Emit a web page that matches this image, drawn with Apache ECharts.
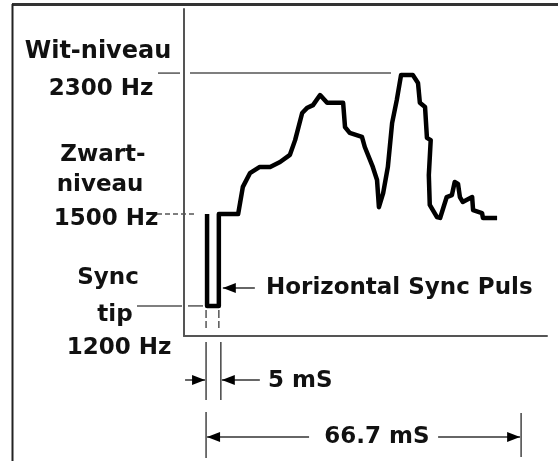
<!DOCTYPE html>
<html>
<head>
<meta charset="utf-8">
<script src="https://cdn.jsdelivr.net/npm/echarts@6/dist/echarts.min.js"></script>
<style>
  html, body { margin: 0; padding: 0; background: #fff; }
  #chart { width: 558px; height: 461px; }
</style>
</head>
<body>
<div id="chart"></div>
<script>
// tijd in ms, niveau relatief (0 = as, 100 = bovenkant)
const tijd = [4.9, 4.9, 7.4, 7.4, 11.5, 12.5, 14.0, 16.1, 18.3, 20.4, 22.5, 23.6, 25.1, 26.1,
  27.4, 28.9, 30.4, 33.8, 34.2, 35.2, 37.8, 38.4, 40.1, 41.0, 41.4, 42.3, 43.3, 44.2, 45.2,
  46.1, 48.6, 49.7, 50.1, 51.2, 51.6, 52.4, 52.0, 52.2, 53.7, 54.4, 55.8, 56.9, 57.5, 58.2,
  58.6, 59.2, 61.2, 61.4, 63.3, 63.5, 66.5]
const niveau = [37.3, 9.2, 9.2, 37.3, 37.3, 45.6, 49.8, 51.7, 51.7, 53.2, 55.4, 59.9, 68.2, 69.7,
  70.6, 73.7, 71.3, 71.3, 63.9, 62.1, 60.9, 57.8, 51.7, 47.7, 39.4, 43.7, 51.7, 65.1, 72.2,
  79.8, 79.8, 77.4, 71.3, 70.0, 60.6, 59.9, 49.2, 40.1, 36.4, 36.1, 42.5, 43.1, 47.1, 46.5,
  42.5, 41.0, 42.5, 38.5, 37.6, 36.1, 36.1]

const syncStart = 4.9
const syncEind = 7.4
const lijnDuur = 66.7
const nivSync = 9.2
const nivZwart = 37.3
const nivWit = 80.4

const chart = echarts.init(document.getElementById('chart'))

const as = {
  type: 'value',
  axisLine: { show: true, onZero: false, lineStyle: { color: '#555', width: 2 } },
  axisTick: { show: false },
  axisLabel: { show: false },
  splitLine: { show: false }
}

chart.setOption({
  animation: false,
  grid: { left: 184, right: 11, top: 9, bottom: 125 },
  xAxis: Object.assign({}, as, { min: 0, max: 77.1 }),
  yAxis: Object.assign({}, as, { min: 0, max: 100 }),
  series: [
    {
      type: 'line',
      data: tijd.map((t, i) => [t, niveau[i]]),
      symbol: 'none',
      lineStyle: { color: '#000', width: 4.5, join: 'round' }
    }
  ]
})

const px = (x, y) => chart.convertToPixel({ gridIndex: 0 }, [x, y])
const FONT = 'bold 23px "DejaVu Sans"'

const lijn = (x1, y1, x2, y2, w, kleur, dash) => ({
  type: 'line',
  shape: { x1, y1, x2, y2 },
  style: { stroke: kleur || '#555', lineWidth: w || 1.5, lineDash: dash || null }
})
const tekst = (t, x, y, align, font) => ({
  type: 'text',
  x, y,
  style: { text: t, font: font || FONT, fill: '#111', align: align || 'center', verticalAlign: 'middle' }
})
// pijl met punt op (xt, y), richting dir (+1 = naar rechts)
const pijl = (xt, y, dir, len) => [
  lijn(xt, y, xt - dir * len, y, 1.5, '#333'),
  {
    type: 'polygon',
    shape: { points: [[xt, y], [xt - dir * 13, y - 5], [xt - dir * 13, y + 5]] },
    style: { fill: '#000' }
  }
]

const yWit = px(0, nivWit)[1]
const yZwart = px(0, nivZwart)[1]
const ySync = px(0, nivSync)[1]
const xS = px(syncStart, 0)[0]
const xE = px(syncEind, 0)[0]
const xL = px(syncStart + lijnDuur, 0)[0]

const g = [
  // kader
  lijn(12, 4.5, 558, 4.5, 3, '#333'),
  lijn(12.5, 4, 12.5, 461, 2, '#222'),
  // niveaulijnen
  lijn(158, yWit, 180, yWit),
  lijn(190, yWit, 391, yWit),
  lijn(157, yZwart, 197, yZwart, 1.5, '#555', [5, 3]),
  lijn(137, ySync, 182, ySync),
  lijn(188, ySync, 203, ySync),
  // streepjes onder de puls
  lijn(xS - 1, ySync + 4, xS - 1, 328, 1.5, '#555', [8, 3]),
  lijn(xE, ySync + 4, xE, 328, 1.5, '#555', [8, 3]),
  // 5 mS maatlijnen
  lijn(xS - 1, 342, xS - 1, 400, 1.5, '#444'),
  lijn(xE + 2, 342, xE + 2, 400, 1.5, '#444'),
  ...pijl(xS - 2, 380, 1, 20),
  ...pijl(xE + 3, 380, -1, 38),
  tekst('5 mS', 268, 381, 'left'),
  // 66.7 mS
  lijn(xS - 1, 412, xS - 1, 458, 1.5, '#444'),
  lijn(xL, 413, xL, 457, 1.5, '#444'),
  ...pijl(xS, 437, -1, 102),
  ...pijl(xL - 1, 437, 1, 82),
  tekst('66.7 mS', 377, 437),
  // sync puls label
  ...pijl(xE + 4, 288, -1, 32),
  tekst('Horizontal Sync Puls', 266, 288, 'left'),
  // labels links
  tekst('Wit-niveau', 98, 52, 'center', 'bold 24px "DejaVu Sans"'),
  tekst('2300 Hz', 101, 89),
  tekst('Zwart-', 103, 155),
  tekst('niveau', 100, 185),
  tekst('1500 Hz', 106, 219),
  tekst('Sync', 108, 278),
  tekst('tip', 115, 315),
  tekst('1200 Hz', 119, 348)
]

chart.setOption({ graphic: { elements: g } })
</script>
</body>
</html>
